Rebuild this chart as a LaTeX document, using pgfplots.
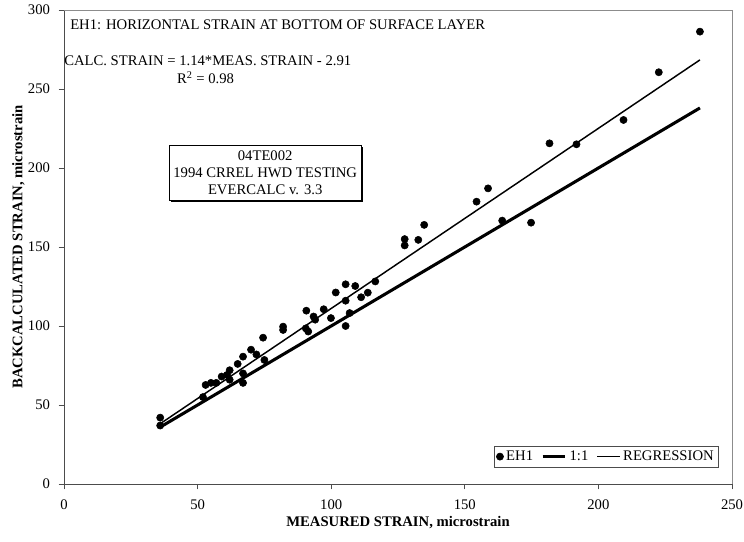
\documentclass[border=0pt]{standalone}
\usepackage{pgfplots}
\pgfplotsset{compat=1.18}
\usepackage{fontspec}
\setmainfont{Liberation Serif}
\usetikzlibrary{shadows}
\pgfplotstableread{
x y
36 42
36 37
52 55
53 62.7
55 64
57 64
59 68
61 69
62 72
62 66
65 76
67 80.6
67 64
67 70
70 85
72 82
75 78.5
74.5 92.6
82 99.6
82 97.5
90.7 109.7
93.4 106
94 104
90.5 98.5
91.4 96.5
97.2 110.6
99.9 105
101.7 121.2
105.4 126.4
105.4 116
105.4 100
106.9 108.2
109 125.3
111.2 118.2
113.7 121.1
116.5 128.2
127.5 151
127.5 155
132.6 154.5
134.8 164
154.4 178.7
158.7 187.1
164 166.7
174.8 165.4
181.7 215.6
191.8 215
209.4 230.4
222.6 260.6
238 286.3
}\eh
\pgfplotstableread{
x y
36 36
238 238
}\one
\pgfplotstableread{
x y
36 38.13
238 268.41
}\reg
\begin{document}
\begin{tikzpicture}
\begin{axis}[
  name=ax,
  scale only axis,
  width=501pt, height=355.5pt,
  xmin=0, xmax=250, ymin=0, ymax=300,
  xtick={0,50,...,250}, ytick={0,50,...,300},
  tick align=outside,
  major tick length=4pt,
  xtick pos=bottom, ytick pos=left,
  axis line style={black!70, line width=0.5pt},
  tick style={black!70, line width=0.5pt},
  /pgf/number format/assume math mode=true,
  ticklabel style={font=\fontsize{11pt}{13pt}\selectfont},
  xticklabel style={yshift=-4pt},
  yticklabel style={xshift=-3pt},
  xlabel={\textbf{MEASURED STRAIN,} \textbf{microstrain}},
  ylabel={\textbf{BACKCALCULATED STRAIN, microstrain}},
  label style={font=\fontsize{11pt}{13pt}\selectfont},
  xlabel style={at={(axis description cs:0.5,0)}, anchor=north, yshift=-21pt},
  ylabel style={at={(axis description cs:0,0.5)}, anchor=south, yshift=26pt},
  legend style={at={(axis cs:245,10.5)}, anchor=south east, legend columns=-1,
    font=\fontsize{11pt}{13pt}\selectfont, draw=black!70, inner sep=1.5pt,
    /tikz/every even column/.append style={column sep=4pt}},
  clip=false,
]
\addplot[only marks, mark=*, mark size=2.7pt, black] table {\eh};
\addlegendentry{EH1}
\addplot[black, line width=2.3pt] table {\one};
\addlegendentry{1:1}
\addplot[black, line width=1.1pt] table {\reg};
\addlegendentry{REGRESSION}
\node[anchor=west, font=\fontsize{11pt}{13pt}\selectfont, inner sep=0pt] at (rel axis cs:0.009,0.968) {EH1: HORIZONTAL STRAIN AT BOTTOM OF SURFACE LAYER};
\node[anchor=west, font=\fontsize{11pt}{13pt}\selectfont, inner sep=0pt] at (rel axis cs:0.0,0.893) {CALC. STRAIN = 1.14*MEAS. STRAIN - 2.91};
\node[anchor=center, font=\fontsize{11pt}{13pt}\selectfont, inner sep=0pt] at (rel axis cs:0.212,0.857) {R\textsuperscript{2} = 0.98};
\node[draw=black, fill=white, line width=0.5pt, align=center, font=\fontsize{11pt}{13pt}\selectfont,
  inner xsep=3pt, inner ysep=4pt,
  drop shadow={shadow xshift=1.5pt, shadow yshift=-1.5pt, fill=black, opacity=1}] at (axis cs:75.3,197)
  {04TE002\\1994 CRREL HWD TESTING\\EVERCALC v. 3.3};
\end{axis}
\draw[black!45, line width=0.5pt] (ax.north west) -- (ax.north east) -- (ax.south east);
\pgfresetboundingbox
\path[use as bounding box] (ax.south west) ++(-48pt,-43.5pt) rectangle ++(558pt,406.5pt);
\end{tikzpicture}
\end{document}
